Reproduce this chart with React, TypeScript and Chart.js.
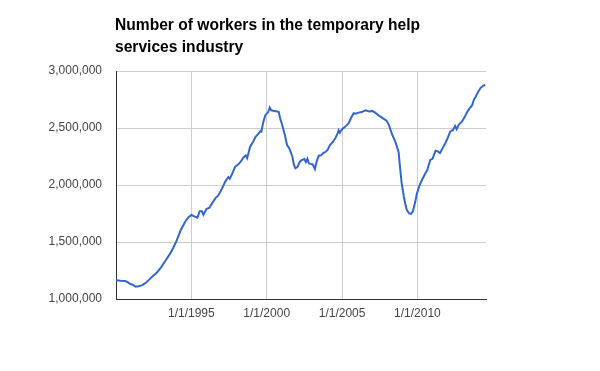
import React, { useEffect, useRef } from "react";
import { Chart, registerables } from "chart.js";

Chart.register(...registerables);

const titleLines = ["Number of workers in the temporary help", "services industry"];

// Decimal year of each reading
const years = [
  1990.0, 1990.3, 1990.6, 1990.75, 1990.9, 1991.1, 1991.3, 1991.5, 1991.75, 1992.0,
  1992.2, 1992.4, 1992.7, 1993.0, 1993.3, 1993.6, 1993.8, 1994.0, 1994.3, 1994.6,
  1994.8, 1995.0, 1995.2, 1995.4, 1995.55, 1995.7, 1995.8, 1996.0, 1996.2, 1996.4,
  1996.6, 1996.8, 1997.0, 1997.25, 1997.45, 1997.55, 1997.7, 1997.9, 1998.1, 1998.25,
  1998.45, 1998.6, 1998.7, 1998.9, 1999.1, 1999.25, 1999.45, 1999.6, 1999.65, 1999.75,
  1999.9, 2000.1, 2000.2, 2000.3, 2000.5, 2000.7, 2000.8, 2000.9, 2001.0, 2001.2,
  2001.35, 2001.5, 2001.7, 2001.8, 2001.9, 2002.05, 2002.2, 2002.35, 2002.5, 2002.6,
  2002.7, 2002.8, 2002.9, 2003.05, 2003.2, 2003.3, 2003.45, 2003.6, 2003.75, 2003.9,
  2004.05, 2004.2, 2004.4, 2004.55, 2004.7, 2004.77, 2004.85, 2005.0, 2005.2, 2005.43,
  2005.6, 2005.77, 2005.9, 2006.1, 2006.3, 2006.55, 2006.8, 2007.0, 2007.2, 2007.43,
  2007.6, 2007.77, 2007.95, 2008.1, 2008.3, 2008.53, 2008.75, 2008.85, 2008.95, 2009.1,
  2009.2, 2009.3, 2009.45, 2009.57, 2009.7, 2009.85, 2009.97, 2010.15, 2010.3, 2010.52,
  2010.65, 2010.85, 2011.0, 2011.2, 2011.35, 2011.5, 2011.7, 2011.85, 2012.0, 2012.18,
  2012.35, 2012.5, 2012.6, 2012.75, 2012.95, 2013.15, 2013.3, 2013.45, 2013.63, 2013.75,
  2013.85, 2014.0, 2014.18, 2014.35, 2014.5,
];

// Workers, in thousands
const workers = [
  1165, 1160, 1158, 1150, 1135, 1125, 1108, 1112, 1122, 1145,
  1170, 1196, 1230, 1280, 1340, 1400, 1450, 1505, 1605, 1680,
  1715, 1737, 1725, 1713, 1770, 1770, 1740, 1790, 1800, 1845,
  1885, 1910, 1960, 2030, 2070, 2055, 2095, 2160, 2180, 2200,
  2240, 2260, 2235, 2336, 2380, 2420, 2450, 2475, 2470, 2540,
  2610, 2640, 2680, 2655, 2650, 2645, 2640, 2580, 2540, 2440,
  2350, 2320, 2250, 2180, 2147, 2160, 2205, 2220, 2228, 2200,
  2230, 2190, 2185, 2180, 2140, 2200, 2257, 2260, 2280, 2290,
  2310, 2350, 2380, 2410, 2450, 2480, 2460, 2490, 2510, 2540,
  2590, 2630, 2625, 2635, 2640, 2655, 2645, 2650, 2635, 2610,
  2595, 2580, 2565, 2530, 2450, 2380, 2290, 2150, 2020, 1897,
  1830, 1780, 1750, 1746, 1770, 1850, 1927, 2000, 2044, 2100,
  2130, 2220, 2230, 2300, 2295, 2280, 2330, 2366, 2410, 2470,
  2480, 2518, 2490, 2530, 2555, 2600, 2640, 2670, 2700, 2750,
  2770, 2810, 2850, 2870, 2877,
];

const xTickYears = [1995, 2000, 2005, 2010];
const yMin = 1000000;
const yMax = 3000000;
const yStep = 500000;

const FONT = '"Liberation Sans", Arial, sans-serif';

export default function App() {
  const ref = useRef<HTMLCanvasElement | null>(null);

  useEffect(() => {
    if (!ref.current) return;
    const titlePlugin = {
      id: "customTitle",
      afterDraw(chart: any) {
        const ctx = chart.ctx;
        ctx.save();
        ctx.fillStyle = "#000";
        ctx.font = `bold 15.6px ${FONT}`;
        ctx.textAlign = "left";
        ctx.textBaseline = "alphabetic";
        titleLines.forEach((line, i) => {
          ctx.fillText(line, chart.chartArea.left - 1, 30 + i * 21.5);
        });
        ctx.restore();
      },
    };

    const chart = new Chart(ref.current, {
      type: "line",
      data: {
        datasets: [
          {
            data: years.map((y, i) => ({ x: y, y: workers[i] * 1000 })),
            borderColor: "#3366cc",
            borderWidth: 2,
            pointRadius: 0,
            tension: 0,
            fill: false,
          },
        ],
      },
      options: {
        animation: false,
        responsive: false,
        maintainAspectRatio: false,
        layout: { padding: { top: 71, right: 114, left: 0, bottom: 0 } },
        plugins: {
          legend: { display: false },
          title: { display: false },
          tooltip: { enabled: false },
        },
        scales: {
          x: {
            type: "linear",
            min: 1990,
            max: 2014.55,
            afterBuildTicks(scale: any) {
              scale.ticks = xTickYears.map((v) => ({ value: v }));
            },
            afterFit(scale: any) {
              scale.height = 72;
            },
            grid: { color: "#cccccc", drawTicks: false, lineWidth: 1 },
            border: { display: true, color: "#333333", width: 1 },
            ticks: {
              padding: 7,
              color: "#444444",
              font: { family: FONT, size: 12 },
              maxRotation: 0,
              autoSkip: false,
              callback: (v: any) => `1/1/${v}`,
            },
          },
          y: {
            min: yMin,
            max: yMax,
            afterFit(scale: any) {
              scale.width = 116;
            },
            grid: { color: "#cccccc", drawTicks: false, lineWidth: 1 },
            border: { display: true, color: "#333333", width: 1 },
            ticks: {
              stepSize: yStep,
              padding: 14,
              color: "#444444",
              font: { family: FONT, size: 12 },
              callback: (v: any) => Number(v).toLocaleString("en-US"),
            },
          },
        },
      },
      plugins: [titlePlugin],
    });
    return () => chart.destroy();
  }, []);

  return (
    <div style={{ position: "fixed", left: 0, top: 0, width: 600, height: 371, background: "#fff" }}>
      <canvas ref={ref} width={600} height={371} style={{ display: "block" }} />
    </div>
  );
}
